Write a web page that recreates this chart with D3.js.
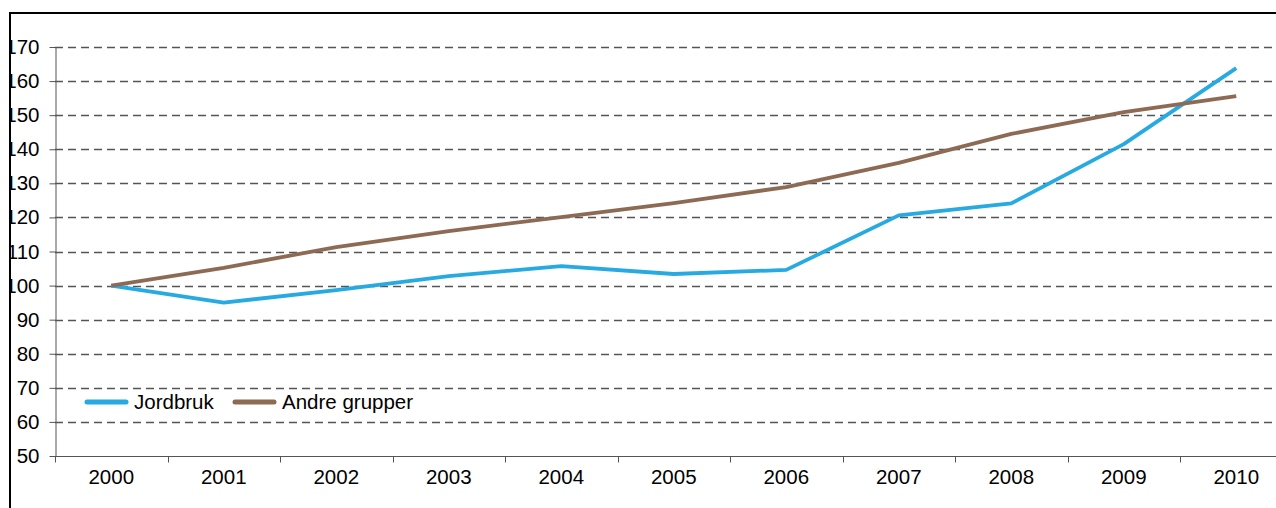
<!DOCTYPE html>
<html>
<head>
<meta charset="utf-8">
<script src="https://cdn.jsdelivr.net/npm/d3@7"></script>
<style>
  body { margin: 0; background: #fff; }
  svg { display: block; font-family: "Liberation Sans", Arial, sans-serif; }
</style>
</head>
<body>
<div id="chart"></div>
<script>
// years on the x axis
const years = ["2000", "2001", "2002", "2003", "2004", "2005", "2006", "2007", "2008", "2009", "2010"]

// index, 2000 = 100
const jordbruk = [100, 95.0, 98.7, 102.8, 105.7, 103.4, 104.6, 120.6, 124.1, 141.5, 163.8]
const andreGrupper = [100, 105.2, 111.3, 116.0, 120.1, 124.2, 128.9, 136.0, 144.5, 150.9, 155.6]

const yTicks = [50, 60, 70, 80, 90, 100, 110, 120, 130, 140, 150, 160, 170]

const series = [
  {name: "Jordbruk", values: jordbruk, color: "#27aae1"},
  {name: "Andre grupper", values: andreGrupper, color: "#8d6a54"}
]

const W = 1276, H = 508
const margin = {top: 47, left: 55, bottom: 52}
const bandW = 112.5
const fontSize = 20.5

const svg = d3.select("#chart")
  .append("svg")
    .attr("width", W)
    .attr("height", H)

const x = d3.scaleBand()
  .domain(years)
  .range([margin.left, margin.left + bandW * years.length])

const y = d3.scaleLinear()
  .domain([50, 170])
  .range([H - margin.bottom, margin.top])

// dashed grid lines
svg.append("g")
  .selectAll("line")
  .data(yTicks.filter(d => d > 50))
  .enter().append("line")
    .attr("x1", margin.left)
    .attr("x2", W)
    .attr("y1", d => Math.round(y(d)) + 0.5)
    .attr("y2", d => Math.round(y(d)) + 0.5)
    .attr("stroke", "#555")
    .attr("stroke-width", 1.3)
    .attr("stroke-dasharray", "8,5")

// y axis
const yAxis = svg.append("g")
  .attr("transform", "translate(" + (margin.left + 0.5) + ",0)")
  .call(d3.axisLeft(y).tickValues(yTicks).tickSize(6).tickPadding(10).tickSizeOuter(0))
yAxis.select(".domain").attr("stroke", "#555")
yAxis.selectAll(".tick line").attr("stroke", "#555")
yAxis.selectAll(".tick text")
  .attr("font-size", fontSize)
  .attr("fill", "#000")
  .attr("font-family", "Liberation Sans, Arial, sans-serif")

// x axis with ticks on band edges
const xAxisG = svg.append("g")
  .attr("transform", "translate(0," + (Math.round(y(50)) + 0.5) + ")")
xAxisG.append("line")
  .attr("x1", margin.left)
  .attr("x2", W)
  .attr("stroke", "#555")
xAxisG.selectAll(".edge")
  .data(years)
  .enter().append("line")
    .attr("class", "edge")
    .attr("x1", d => Math.round(x(d)) + 0.5)
    .attr("x2", d => Math.round(x(d)) + 0.5)
    .attr("y1", 0)
    .attr("y2", 6)
    .attr("stroke", "#555")
xAxisG.selectAll("text")
  .data(years)
  .enter().append("text")
    .attr("x", d => x(d) + x.bandwidth() / 2)
    .attr("y", 27)
    .attr("text-anchor", "middle")
    .attr("font-size", fontSize)
    .text(d => d)

// lines
const line = d3.line()
  .x((d, i) => x(years[i]) + x.bandwidth() / 2)
  .y(d => y(d))

svg.append("g")
  .selectAll("path")
  .data(series)
  .enter().append("path")
    .attr("d", d => line(d.values))
    .attr("fill", "none")
    .attr("stroke", d => d.color)
    .attr("stroke-width", 3.8)
    .attr("stroke-linejoin", "round")

// legend
const legend = svg.append("g")
  .attr("transform", "translate(0,402)")
const legendX = [87, 235]
legend.selectAll("line")
  .data(series)
  .enter().append("line")
    .attr("x1", (d, i) => legendX[i])
    .attr("x2", (d, i) => legendX[i] + 39)
    .attr("stroke", d => d.color)
    .attr("stroke-width", 5)
    .attr("stroke-linecap", "round")
legend.selectAll("text")
  .data(series)
  .enter().append("text")
    .attr("x", (d, i) => legendX[i] + 47)
    .attr("y", 7)
    .attr("font-size", fontSize)
    .text(d => d.name)

// outer frame, it hides the left part of the labels
svg.append("rect")
  .attr("x", 0).attr("y", 0)
  .attr("width", 9).attr("height", H)
  .attr("fill", "#fff")
svg.append("path")
  .attr("d", "M10," + H + "V13H" + W)
  .attr("fill", "none")
  .attr("stroke", "#000")
  .attr("stroke-width", 2)
</script>
</body>
</html>
